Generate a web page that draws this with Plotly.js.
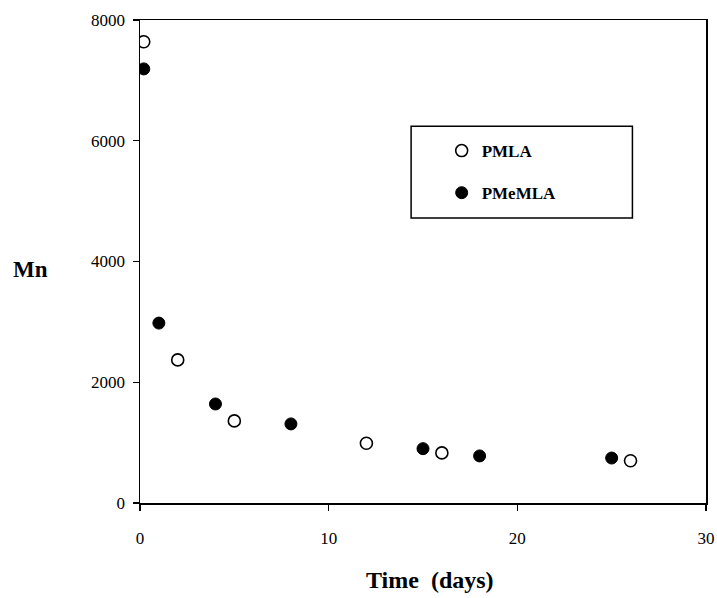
<!DOCTYPE html>
<html>
<head>
<meta charset="utf-8">
<script src="https://cdn.plot.ly/plotly-3.0.1.min.js"></script>
<style>html,body{margin:0;padding:0;background:#fff;}#chart{width:717px;height:598px;}</style>
</head>
<body>
<div id="chart"></div>
<script>
const pmlaTime = [0.2, 2, 5, 12, 16, 26];
const pmlaMn = [7640, 2370, 1360, 990, 830, 700];
const pmemlaTime = [0.2, 1, 4, 8, 15, 18, 25];
const pmemlaMn = [7190, 2980, 1640, 1310, 900, 780, 745];
const xTicks = [0, 10, 20, 30];
const yTicks = [0, 2000, 4000, 6000, 8000];

const serif = "Liberation Serif, Times New Roman, serif";

const traces = [
  {x: pmlaTime, y: pmlaMn, name: 'PMLA', mode: 'markers', type: 'scatter', legendgroup: 'a',
   marker: {symbol: 'circle', size: 12, color: '#fff', line: {color: '#000', width: 1.6}}},
  {x: pmemlaTime, y: pmemlaMn, name: 'PMeMLA', mode: 'markers', type: 'scatter', legendgroup: 'b',
   marker: {symbol: 'circle', size: 12, color: '#000', line: {color: '#000', width: 1}}}
];

const layout = {
  width: 717, height: 598,
  margin: {l: 140, r: 11, t: 20, b: 95},
  paper_bgcolor: '#fff', plot_bgcolor: '#fff',
  font: {family: serif, color: '#000', size: 16},
  showlegend: true,
  legend: {x: 0.533, y: 0.766, xanchor: 'left', yanchor: 'top', bgcolor: 'rgba(0,0,0,0)',
           font: {family: serif, size: 17, weight: 'bold'}, tracegroupgap: 17, itemwidth: 30},
  xaxis: {range: [0, 30], tickvals: xTicks, ticktext: xTicks.map(String), showgrid: false, zeroline: false,
          showline: true, linecolor: '#000', linewidth: 1.5, mirror: true,
          ticks: 'outside', ticklen: 6, tickwidth: 1.2, tickcolor: '#000', ticklabelstandoff: 13,
          tickfont: {size: 17, family: serif}},
  yaxis: {range: [0, 8000], tickvals: yTicks, ticktext: yTicks.map(String), showgrid: false, zeroline: false,
          showline: true, linecolor: '#000', linewidth: 1.5, mirror: true,
          ticks: 'outside', ticklen: 6, tickwidth: 1.2, tickcolor: '#000', ticklabelstandoff: 4,
          tickfont: {size: 17, family: serif}},
  shapes: [{type: 'rect', xref: 'paper', yref: 'paper', x0: 0.479, x1: 0.870, y0: 0.59, y1: 0.78,
            line: {color: '#000', width: 1.5}}],
  annotations: [
    {text: '<b>Time  (days)</b>', xref: 'paper', yref: 'paper', x: 0.512, y: 0, xanchor: 'center', yanchor: 'middle',
     yshift: -77, showarrow: false, font: {family: serif, size: 24}},
    {text: '<b>Mn</b>', xref: 'paper', yref: 'paper', x: 0, y: 0.5, xanchor: 'center', yanchor: 'middle',
     xshift: -110, yshift: -8, showarrow: false, font: {family: serif, size: 23}}
  ]
};

Plotly.newPlot('chart', traces, layout, {displayModeBar: false, staticPlot: true});
</script>
</body>
</html>
